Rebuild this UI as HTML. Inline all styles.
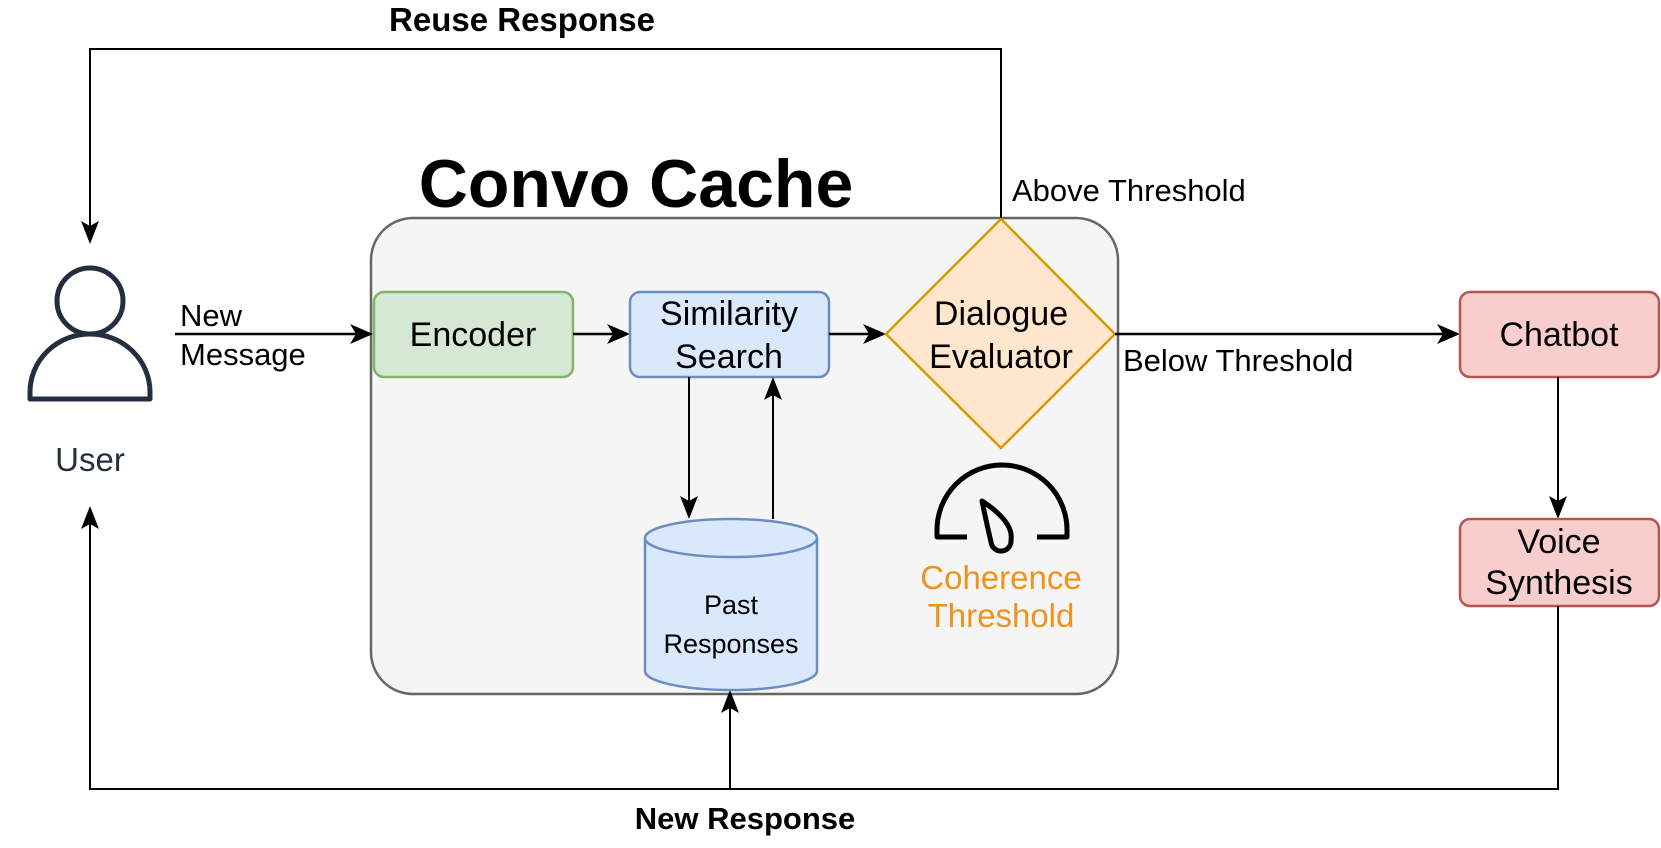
<!DOCTYPE html>
<html><head><meta charset="utf-8"><style>
html,body{margin:0;padding:0;background:#fff;}
svg{display:block;font-family:"Liberation Sans",sans-serif;}
</style></head><body>
<svg width="1661" height="848" viewBox="0 0 1661 848" xmlns="http://www.w3.org/2000/svg">
<!-- container -->
<rect x="371" y="218" width="747" height="476" rx="42" fill="#f5f5f5" stroke="#666" stroke-width="2.5"/>
<text x="636" y="207" font-size="68" font-weight="bold" text-anchor="middle">Convo Cache</text>
<!-- top loop -->
<polyline points="1001,219 1001,49 90,49 90,226" fill="none" stroke="#000" stroke-width="2"/>
<polygon points="90,244 81,221 90,226 99,221" fill="#000"/>
<text x="522" y="31" font-size="33" font-weight="bold" text-anchor="middle">Reuse Response</text>
<text x="1012" y="201" font-size="31">Above Threshold</text>
<!-- user -->
<circle cx="90" cy="301" r="33" fill="none" stroke="#232f3e" stroke-width="5"/>
<path d="M30,399 L30,392 A60,58 0 0 1 150,392 L150,399 Z" fill="none" stroke="#232f3e" stroke-width="5" stroke-linejoin="round"/>
<text x="90" y="471" font-size="33" fill="#232f3e" text-anchor="middle">User</text>
<!-- new message -->
<text x="180" y="326" font-size="31">New</text>
<text x="180" y="365" font-size="31">Message</text>
<line x1="175" y1="334" x2="358" y2="334" stroke="#000" stroke-width="2.5"/>
<polygon points="373,334 350,324 356,334 350,344" fill="#000"/>
<!-- encoder -->
<rect x="374" y="292" width="199" height="85" rx="10" fill="#d5e8d4" stroke="#82b366" stroke-width="2.5"/>
<text x="473" y="346" font-size="34" text-anchor="middle">Encoder</text>
<line x1="573" y1="334" x2="615" y2="334" stroke="#000" stroke-width="2.5"/>
<polygon points="630,334 607,324 613,334 607,344" fill="#000"/>
<!-- similarity -->
<rect x="630" y="292" width="199" height="85" rx="10" fill="#dae8fc" stroke="#6c8ebf" stroke-width="2.5"/>
<text x="729" y="325" font-size="34" text-anchor="middle">Similarity</text>
<text x="729" y="368" font-size="34" text-anchor="middle">Search</text>
<line x1="829" y1="334" x2="871" y2="334" stroke="#000" stroke-width="2.5"/>
<polygon points="886,334 863,324 869,334 863,344" fill="#000"/>
<!-- sim <-> db -->
<line x1="689" y1="377" x2="689" y2="503" stroke="#000" stroke-width="2"/>
<polygon points="689,519 680,496 689,501 698,496" fill="#000"/>
<line x1="773" y1="519" x2="773" y2="393" stroke="#000" stroke-width="2"/>
<polygon points="773,377 764,400 773,395 782,400" fill="#000"/>
<!-- cylinder -->
<path d="M645,538 L645,671 A86,19 0 0 0 817,671 L817,538" fill="#dae8fc" stroke="#6c8ebf" stroke-width="2.5"/>
<ellipse cx="731" cy="538" rx="86" ry="19" fill="#dae8fc" stroke="#6c8ebf" stroke-width="2.5"/>
<text x="731" y="614" font-size="27" text-anchor="middle">Past</text>
<text x="731" y="653" font-size="27" text-anchor="middle">Responses</text>
<!-- diamond -->
<polygon points="1001,219 1115,334 1001,448 886,334" fill="#ffe6cc" stroke="#d79b00" stroke-width="2.5"/>
<text x="1001" y="325" font-size="34" text-anchor="middle">Dialogue</text>
<text x="1001" y="368" font-size="34" text-anchor="middle">Evaluator</text>
<!-- gauge -->
<path d="M967,537 L937,537 L937,530 A65,65 0 0 1 1067,530 L1067,537 L1037,537" fill="none" stroke="#000" stroke-width="5" stroke-linejoin="round"/>
<path d="M982,501 Q1014,522 1011,540 A10,10 0 0 1 991,542 Q987,525 982,501 Z" fill="none" stroke="#000" stroke-width="5" stroke-linejoin="round"/>
<text x="1001" y="589" font-size="33" fill="#f0921e" text-anchor="middle">Coherence</text>
<text x="1001" y="627" font-size="33" fill="#f0921e" text-anchor="middle">Threshold</text>
<!-- below threshold -->
<line x1="1115" y1="334" x2="1445" y2="334" stroke="#000" stroke-width="2.5"/>
<polygon points="1460,334 1437,324 1443,334 1437,344" fill="#000"/>
<text x="1123" y="371" font-size="31">Below Threshold</text>
<!-- chatbot -->
<rect x="1460" y="292" width="199" height="85" rx="10" fill="#f8cecc" stroke="#b85450" stroke-width="2.5"/>
<text x="1559" y="346" font-size="34" text-anchor="middle">Chatbot</text>
<line x1="1558" y1="377" x2="1558" y2="503" stroke="#000" stroke-width="2"/>
<polygon points="1558,519 1549,496 1558,501 1567,496" fill="#000"/>
<rect x="1460" y="519" width="199" height="87" rx="10" fill="#f8cecc" stroke="#b85450" stroke-width="2.5"/>
<text x="1559" y="553" font-size="34" text-anchor="middle">Voice</text>
<text x="1559" y="594" font-size="34" text-anchor="middle">Synthesis</text>
<!-- bottom loop -->
<polyline points="1558,606 1558,789 90,789 90,522" fill="none" stroke="#000" stroke-width="2"/>
<polygon points="90,506 81,529 90,524 99,529" fill="#000"/>
<line x1="730" y1="789" x2="730" y2="706" stroke="#000" stroke-width="2"/>
<polygon points="730,690 721,713 730,708 739,713" fill="#000"/>
<text x="745" y="829" font-size="31" font-weight="bold" text-anchor="middle">New Response</text>
</svg>
</body></html>
